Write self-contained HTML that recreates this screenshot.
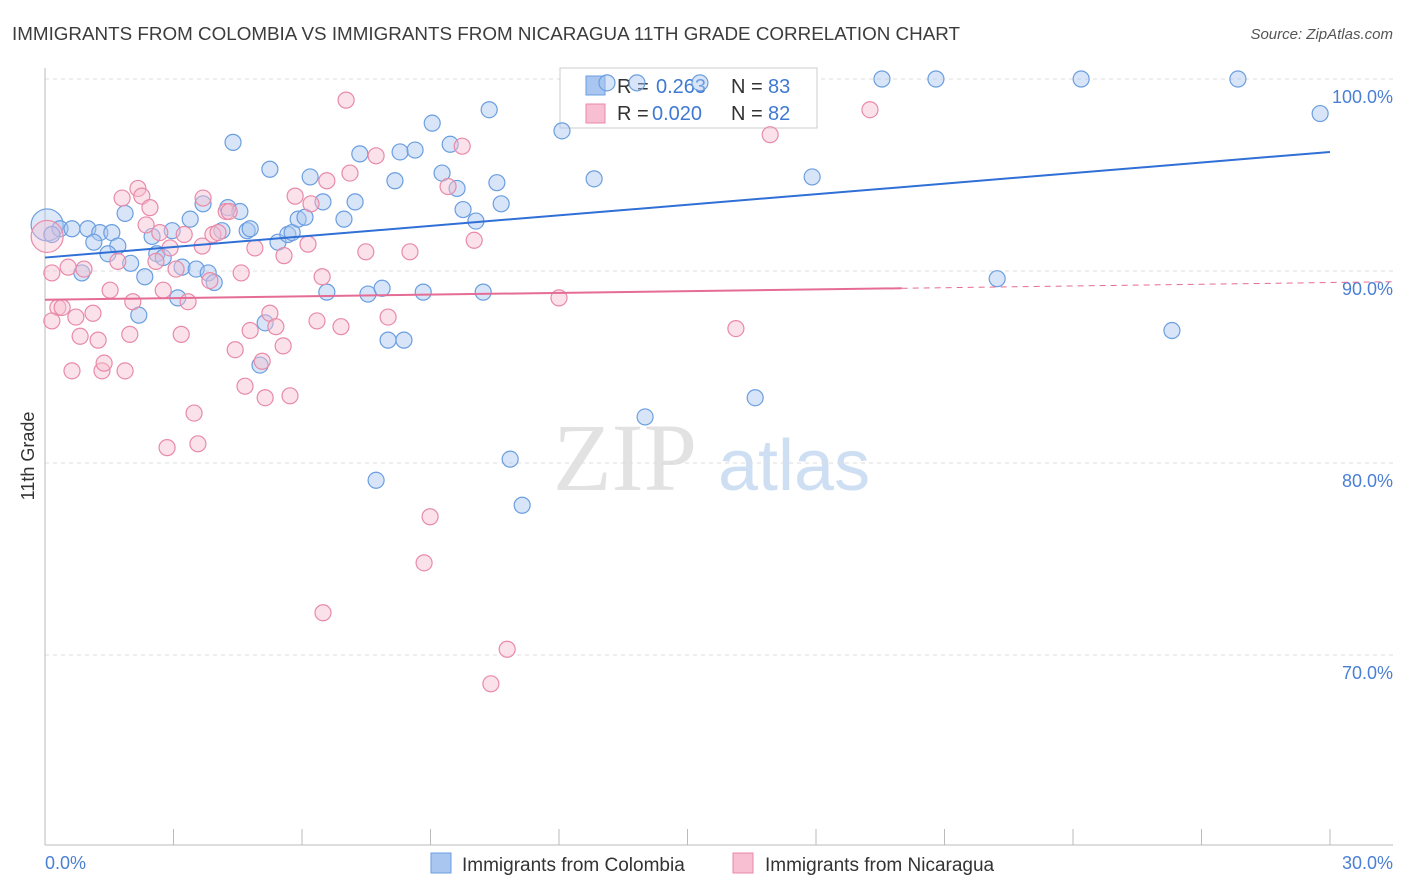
<!DOCTYPE html>
<html><head><meta charset="utf-8"><style>
body{margin:0;background:#fff;font-family:"Liberation Sans",sans-serif;}
svg{display:block}
</style></head><body>
<svg id="chart" width="1406" height="892">
<text x="12" y="40" font-size="18.5" fill="#3c3c3c" textLength="948" lengthAdjust="spacingAndGlyphs">IMMIGRANTS FROM COLOMBIA VS IMMIGRANTS FROM NICARAGUA 11TH GRADE CORRELATION CHART</text>
<text x="1393" y="39" font-size="15" fill="#555" font-style="italic" text-anchor="end">Source: ZipAtlas.com</text>
<g>
<text x="553" y="490" font-size="96" fill="#e2e2e2" font-family="Liberation Serif,serif">ZIP</text>
<text x="718" y="490" font-size="72" fill="#cfdff3">atlas</text>
</g>
<text transform="translate(34,456) rotate(-90)" font-size="18" fill="#333" text-anchor="middle">11th Grade</text>
<g id="grid"></g><g id="axes"></g>
<g>
<rect x="560" y="68" width="257" height="60" fill="#fff" stroke="#ccc"/>
<rect x="586" y="76" width="19" height="19" fill="#a9c6f0" stroke="#6a9ee0"/>
<rect x="586" y="104" width="19" height="19" fill="#f7bfd1" stroke="#e88aa8"/>
<text x="617" y="93" font-size="20" fill="#333">R = <tspan fill="#3f79d3" x="656">0.263</tspan><tspan x="731" fill="#333">N = </tspan><tspan fill="#3f79d3" x="768">83</tspan></text>
<text x="617" y="120" font-size="20" fill="#333">R = <tspan fill="#3f79d3" x="652">0.020</tspan><tspan x="731" fill="#333">N = </tspan><tspan fill="#3f79d3" x="768">82</tspan></text>
</g>
<g id="pts"></g><g id="trend"></g>
<g>
<rect x="431" y="853" width="20" height="20" fill="#a9c6f0" stroke="#6a9ee0"/>
<text x="462" y="871" font-size="19" fill="#333">Immigrants from Colombia</text>
<rect x="733" y="853" width="20" height="20" fill="#f7bfd1" stroke="#e88aa8"/>
<text x="765" y="871" font-size="19" fill="#333">Immigrants from Nicaragua</text>
</g>
</svg>
<script>
const colX=[0.05,0.35,0.63,1.0,1.28,1.56,1.87,1.14,1.7,1.47,0.86,2.0,2.33,2.19,2.5,2.61,2.76,2.97,3.1,3.39,3.2,3.53,3.69,3.81,3.95,4.13,4.27,4.55,4.72,4.79,4.39,5.25,5.14,5.02,5.44,5.67,5.77,5.91,6.07,6.19,6.49,6.58,6.98,7.24,7.35,7.54,7.87,8.01,8.17,8.29,8.38,8.64,8.83,9.04,9.27,9.46,9.62,9.76,10.06,10.23,10.37,10.55,10.65,10.86,11.14,12.07,12.82,13.12,13.82,14.01,15.29,16.58,17.91,19.54,20.8,22.23,24.19,26.31,27.85,29.77,7.73,0.16];
const colY=[92.4,92.2,92.2,92.2,92.0,92.0,93.0,91.5,91.3,90.9,89.9,90.4,89.7,87.7,91.8,90.9,90.7,92.1,88.6,92.7,90.2,90.1,93.5,89.9,89.4,92.1,93.3,93.1,92.1,92.2,96.7,95.3,87.3,85.1,91.5,91.9,92.0,92.7,92.8,94.9,93.6,88.9,92.7,93.6,96.1,88.8,89.1,86.4,94.7,96.2,86.4,96.3,88.9,97.7,95.1,96.6,94.3,93.2,92.6,88.9,98.4,94.6,93.5,80.2,77.8,97.3,94.8,99.8,99.8,82.4,99.8,83.4,94.9,100,100,89.6,100,86.9,100,98.2,79.1,91.9];
const nicX=[0.16,0.3,0.4,0.54,0.63,0.72,0.82,0.91,1.12,1.24,1.33,1.38,1.52,1.7,1.8,1.87,1.98,2.05,2.17,2.26,2.36,2.45,2.59,2.68,2.76,2.85,2.92,3.06,3.18,3.25,3.34,3.48,3.57,3.69,3.67,3.85,3.92,4.04,4.23,4.3,4.44,4.58,4.67,4.79,4.9,5.07,5.14,5.25,5.39,5.56,5.58,5.72,5.84,6.14,6.21,6.35,6.47,6.49,6.58,6.91,7.03,7.12,7.49,7.73,8.01,8.52,8.85,8.99,9.41,9.74,10.02,10.41,10.79,12.0,16.13,16.93,19.26,0.16,0.05];
const nicY=[89.9,88.1,88.1,90.2,84.8,87.6,86.6,90.1,87.8,86.4,84.8,85.2,89.0,90.5,93.8,84.8,86.7,88.4,94.3,93.9,92.4,93.3,90.5,92.0,89.0,80.8,91.2,90.1,86.7,91.9,88.4,82.6,81.0,93.8,91.3,89.5,91.9,92.0,93.1,93.1,85.9,89.9,84.0,86.9,91.2,85.3,83.4,87.8,87.1,86.1,90.8,83.5,93.9,91.4,93.5,87.4,89.7,72.2,94.7,87.1,98.9,95.1,91.0,96.0,87.6,91.0,74.8,77.2,94.4,96.5,91.6,68.5,70.3,88.6,87.0,97.1,98.4,87.4,91.8];
const colTrend=[90.7,96.2];
const nicTrend=[88.5,89.4];
const yTicks=[100,90,80,70];
const yTickLabels=["100.0%","90.0%","80.0%","70.0%"];
const xTicks=[0,3,6,9,12,15,18,21,24,27,30];

const NS="http://www.w3.org/2000/svg";
const sx=v=>45+v*(1285/30);
const sy=v=>79+(100-v)*19.2;
function mk(tag,attrs,parent){const e=document.createElementNS(NS,tag);for(const k in attrs)e.setAttribute(k,attrs[k]);document.getElementById(parent).appendChild(e);return e;}
yTicks.forEach((t,i)=>{
 const g=mk('line',{x1:45,x2:1393,y1:sy(t),y2:sy(t),stroke:'#dcdcdc','stroke-dasharray':'4,4'},'grid');
 
 
 const l=mk('text',{x:1393,y:sy(t)+24,'font-size':18,fill:'#4a7fd4','text-anchor':'end'},'grid');
 l.textContent=yTickLabels[i];
 
 
});
const ax=mk('line',{x1:45,x2:45,y1:68,y2:845,stroke:'#bbb'},'axes');


const bx=mk('line',{x1:45,x2:1393,y1:845,y2:845,stroke:'#bbb'},'axes');


xTicks.forEach(t=>{
 const k=mk('line',{x1:sx(t),x2:sx(t),y1:829,y2:845,stroke:'#bbb'},'axes');
 
 
});
const x0=mk('text',{x:45,y:869,'font-size':18,fill:'#4a7fd4'},'axes');x0.textContent='0.0%';


const x1=mk('text',{x:1393,y:869,'font-size':18,fill:'#4a7fd4','text-anchor':'end'},'axes');x1.textContent='30.0%';


function pts(X,Y,fill,stroke,name){
 X.forEach((x,i)=>{
  const big=(i===X.length-1&&name==='nicaragua-point')||(i===0&&name==='colombia-point');
  const c=mk('circle',{cx:sx(x),cy:sy(Y[i]),r:big?16:8,fill:fill,'fill-opacity':big?0.4:0.45,stroke:stroke,'stroke-width':1.2},'pts');
  
  
 });
}
pts(colX,colY,'#a9c6f0','#6a9ee0','colombia-point');
pts(nicX,nicY,'#f7bfd1','#e88aa8','nicaragua-point');
const ct=mk('line',{x1:sx(0),y1:sy(colTrend[0]),x2:sx(30),y2:sy(colTrend[1]),stroke:'#2f6fd6','stroke-width':2},'trend');


const nv=x=>nicTrend[0]+(nicTrend[1]-nicTrend[0])*x/30;
const nt=mk('line',{x1:sx(0),y1:sy(nv(0)),x2:sx(20),y2:sy(nv(20)),stroke:'#e46c95','stroke-width':2},'trend');


const nd=mk('line',{x1:sx(20),y1:sy(nv(20)),x2:sx(31.5),y2:sy(nv(31.5)),stroke:'#e46c95','stroke-width':1,'stroke-dasharray':'6,5'},'trend');


</script>
</body></html>
